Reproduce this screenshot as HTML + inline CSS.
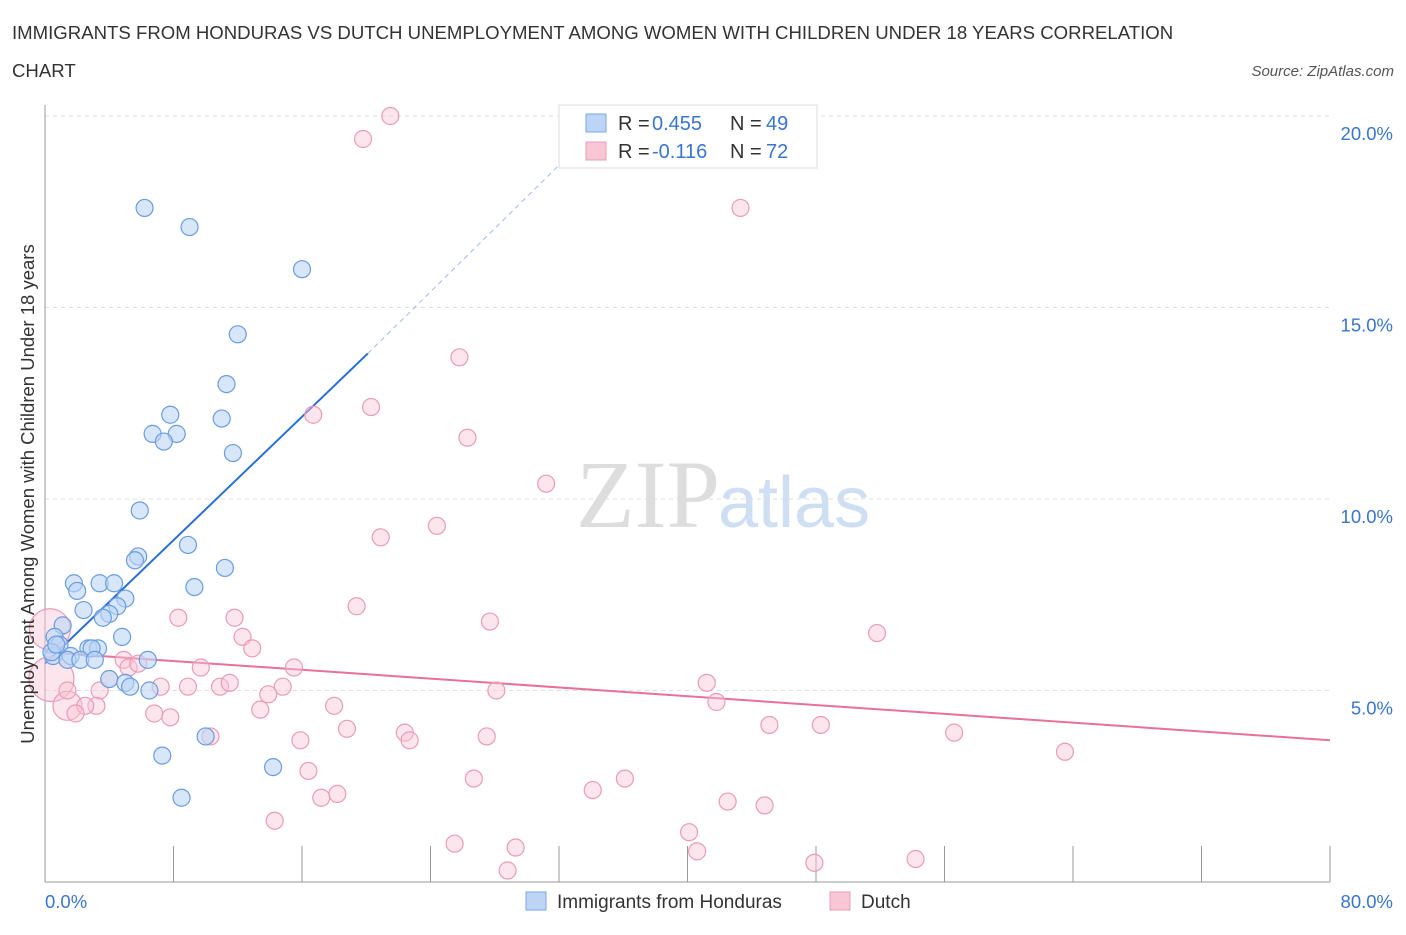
<!DOCTYPE html>
<html><head><meta charset="utf-8"><style>
body{margin:0;background:#fff;font-family:"Liberation Sans",sans-serif}
</style></head><body>
<svg id="c" width="1406" height="930" xmlns="http://www.w3.org/2000/svg">
<text x="12" y="39" font-size="18.6" fill="#333">IMMIGRANTS FROM HONDURAS VS DUTCH UNEMPLOYMENT AMONG WOMEN WITH CHILDREN UNDER 18 YEARS CORRELATION</text>
<text x="12" y="77" font-size="18.6" fill="#333">CHART</text>
<text x="1394" y="76" font-size="15" fill="#555" font-style="italic" text-anchor="end">Source: ZipAtlas.com</text>
<text x="720" y="527" font-size="96" fill="#ddd" font-family="Liberation Serif" text-anchor="end">ZIP</text>
<text x="718" y="527" font-size="72" fill="#cfdff3">atlas</text>
<g id="grid"></g><g id="axes"></g><g id="trend"></g><g id="pts"></g>
<text transform="translate(34,494) rotate(-90)" font-size="18.5" fill="#333" text-anchor="middle">Unemployment Among Women with Children Under 18 years</text>
<g>
<rect x="559" y="105" width="258" height="63" fill="#fff" stroke="#ddd"/>
<rect x="586" y="114" width="20" height="18" fill="#bcd5f5" stroke="#7aa7e3"/>
<text x="618" y="130" font-size="20" fill="#333">R = </text><text x="652" y="130" font-size="20" fill="#3a75d0">0.455</text>
<text x="730" y="130" font-size="20" fill="#333">N = </text><text x="766" y="130" font-size="20" fill="#3a75d0">49</text>
<rect x="586" y="142" width="20" height="18" fill="#f9c6d5" stroke="#ea9cb6"/>
<text x="618" y="158" font-size="20" fill="#333">R = </text><text x="652" y="158" font-size="20" fill="#3a75d0">-0.116</text>
<text x="730" y="158" font-size="20" fill="#333">N = </text><text x="766" y="158" font-size="20" fill="#3a75d0">72</text>
</g>
<g>
<rect x="526" y="892" width="20" height="18" fill="#bcd5f5" stroke="#7aa7e3"/>
<text x="557" y="908" font-size="19" fill="#333">Immigrants from Honduras</text>
<rect x="830" y="892" width="20" height="18" fill="#f9c6d5" stroke="#ea9cb6"/>
<text x="861" y="908" font-size="19" fill="#333">Dutch</text>
</g>
</svg>
<script>
const blueX=[6.2,9.0,16.0,12.0,11.3,7.8,11.0,6.7,8.2,7.4,11.7,5.9,8.9,5.8,5.6,11.2,9.3,1.8,2.0,3.4,4.3,5.0,2.4,4.5,4.0,3.6,1.1,4.8,0.6,0.9,2.7,3.3,2.9,1.6,0.5,1.4,2.2,3.1,6.4,0.4,4.0,5.0,5.3,6.5,10.0,7.3,14.2,8.5,0.7];
const blueY=[17.6,17.1,16.0,14.3,13.0,12.2,12.1,11.7,11.7,11.5,11.2,9.7,8.8,8.5,8.4,8.2,7.7,7.8,7.6,7.8,7.8,7.4,7.1,7.2,7.0,6.9,6.7,6.4,6.4,6.2,6.1,6.1,6.1,5.9,5.9,5.8,5.8,5.8,5.8,6.0,5.3,5.2,5.1,5.0,3.8,3.3,3.0,2.2,6.2];
const pinkX=[21.5,19.8,43.3,25.8,16.7,20.3,26.3,31.2,24.4,20.9,19.4,8.3,11.8,27.7,51.8,12.3,12.9,0.3,0.4,1.4,4.9,5.2,5.8,9.7,15.5,8.9,10.9,11.5,7.2,3.4,4.0,3.2,2.5,13.9,14.8,28.1,41.2,41.8,6.8,7.8,13.4,18.0,18.8,22.4,22.7,27.5,45.1,48.3,56.6,63.5,10.3,15.9,16.4,18.2,17.2,26.7,34.1,36.1,42.5,44.8,14.3,40.1,40.6,25.5,29.3,28.8,47.9,54.2,1.4,1.9];
const pinkY=[20.0,19.4,17.6,13.7,12.2,12.4,11.6,10.4,9.3,9.0,7.2,6.9,6.9,6.8,6.5,6.4,6.1,6.6,5.3,4.6,5.8,5.6,5.7,5.6,5.6,5.1,5.1,5.2,5.1,5.0,5.3,4.6,4.6,4.9,5.1,5.0,5.2,4.7,4.4,4.3,4.5,4.6,4.0,3.9,3.7,3.8,4.1,4.1,3.9,3.4,3.8,3.7,2.9,2.3,2.2,2.7,2.4,2.7,2.1,2.0,1.6,1.3,0.8,1.0,0.9,0.3,0.5,0.6,5.0,4.4];
const pinkR=[8,8,8,8,8,8,8,8,8,8,8,8,8,8,8,8,8,20,22,14,8,8,8,8,8,8,8,8,8,8,8,8,8,8,8,8,8,8,8,8,8,8,8,8,8,8,8,8,8,8,8,8,8,8,8,8,8,8,8,8,8,8,8,8,8,8,8,8,8,8];
const yTicks=[5,10,15,20];
const blueTrend=[[0,5.7],[20.1,13.8]];
const blueDash=[[20.1,13.8],[33.9,19.5]];
const pinkTrend=[[0,6.0],[80,3.7]];
const X=v=>45+v/80*1285, Y=v=>882-v/5*191.5;
const NS='http://www.w3.org/2000/svg';
function mk(p,t,a){const e=document.createElementNS(NS,t);for(const k in a)e.setAttribute(k,a[k]);document.getElementById(p).appendChild(e);return e;}
yTicks.forEach(t=>{const l=mk('grid','line',{x1:45,x2:1330,y1:Y(t),y2:Y(t),stroke:'#ddd','stroke-dasharray':'4,4'});


const tx=mk('grid','text',{x:1393,y:Y(t)+24,'font-size':18.5,fill:'#3a75d0','text-anchor':'end'});tx.textContent=t.toFixed(1)+'%';

});
let ax=mk('axes','line',{x1:45,x2:1330,y1:882,y2:882,stroke:'#999'});


let ay=mk('axes','line',{x1:45,x2:45,y1:105,y2:882,stroke:'#999'});


for(let i=1;i<=10;i++){const t=mk('axes','line',{x1:X(i*8),x2:X(i*8),y1:846,y2:882,stroke:'#999'});

}
[['0.0%',45,'start'],['80.0%',1393,'end']].forEach(a=>{const t=mk('axes','text',{x:a[1],y:908,'font-size':18.5,fill:'#3a75d0','text-anchor':a[2]});t.textContent=a[0];

});
pinkX.forEach((x,i)=>{const c=mk('pts','circle',{cx:X(x),cy:Y(pinkY[i]),r:pinkR[i]+0.5,fill:'#f9c6d5','fill-opacity':0.45,stroke:'#ea9cb6','stroke-width':1.2});

});
blueX.forEach((x,i)=>{const c=mk('pts','circle',{cx:X(x),cy:Y(blueY[i]),r:8.5,fill:'#bcd5f5','fill-opacity':0.6,stroke:'#6a9de0','stroke-width':1.2});

});
let l1=mk('trend','line',{x1:X(blueTrend[0][0]),y1:Y(blueTrend[0][1]),x2:X(blueTrend[1][0]),y2:Y(blueTrend[1][1]),stroke:'#2a6fd6','stroke-width':2});


let l2=mk('trend','line',{x1:X(blueDash[0][0]),y1:Y(blueDash[0][1]),x2:X(blueDash[1][0]),y2:Y(blueDash[1][1]),stroke:'#9dbbe6','stroke-width':1,'stroke-dasharray':'5,4'});


let l3=mk('trend','line',{x1:X(pinkTrend[0][0]),y1:Y(pinkTrend[0][1]),x2:X(pinkTrend[1][0]),y2:Y(pinkTrend[1][1]),stroke:'#e8709a','stroke-width':2});


</script>
</body></html>
